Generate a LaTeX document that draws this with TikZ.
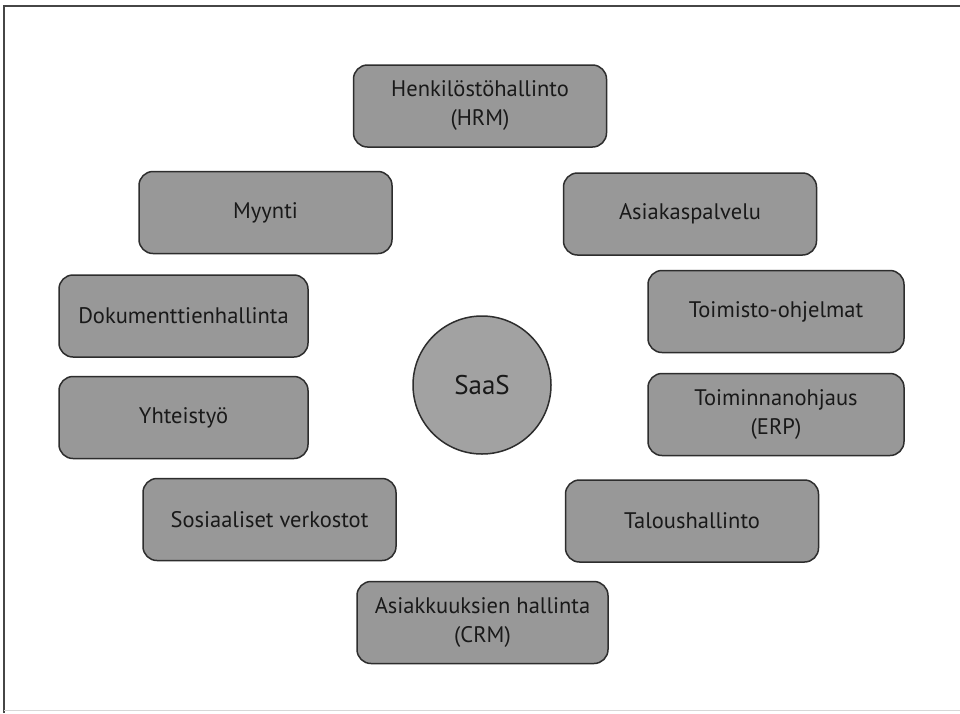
\documentclass[tikz,border=0pt]{standalone}
\usepackage{fontspec}
\setmainfont{PT Sans}
\definecolor{boxfill}{RGB}{152,152,152}
\definecolor{hubfill}{RGB}{162,162,162}
\definecolor{boxline}{RGB}{45,45,45}
\definecolor{textcol}{RGB}{25,25,25}
\definecolor{framecol}{RGB}{70,70,70}
\definecolor{lightframe}{RGB}{215,215,215}
\begin{document}
\begin{tikzpicture}[x=1pt,y=-1pt,
  box/.style={draw=boxline, line width=1.5pt, fill=boxfill, rounded corners=14pt,
    minimum width=253pt, minimum height=82pt, align=center, inner sep=0pt,
    font=\fontsize{22.5}{29}\selectfont, text=textcol},
  hub/.style={circle, draw=boxline, line width=1.5pt, fill=hubfill,
    minimum size=138pt, inner sep=0pt, font=\fontsize{27}{30}\selectfont, text=textcol}]
\useasboundingbox (0,0) rectangle (960,713);
\fill[white] (0,0) rectangle (960,713);
% page frame
\draw[framecol, line width=1.5pt] (4,713) -- (4,6) -- (960,6);
\draw[lightframe, line width=1pt] (4,710) -- (960,710);
% centre
\node[hub] (saas) at (482,385) {SaaS};
% surrounding application areas
\node[box] (hrm)   at (480,106)   {Henkilöstöhallinto\\(HRM)};
\node[box] (myy)   at (265.5,212.5) {Myynti};
\node[box] (asp)   at (690,214)   {Asiakaspalvelu};
\node[box, minimum width=249pt] (dok) at (183.5,316) {Dokumenttienhallinta};
\node[box, minimum width=256pt] (toi) at (776,311.5) {Toimisto-ohjelmat};
\node[box, minimum width=249pt] (yht) at (183.5,417.5) {Yhteistyö};
\node[box, minimum width=256pt] (erp) at (776,414.5) {Toiminnanohjaus\\(ERP)};
\node[box] (sos)   at (269.5,519.5) {Sosiaaliset verkostot};
\node[box] (tal)   at (692,521)   {Taloushallinto};
\node[box, minimum width=251pt] (crm) at (482.5,622.5) {Asiakkuuksien hallinta\\(CRM)};
\end{tikzpicture}
\end{document}
